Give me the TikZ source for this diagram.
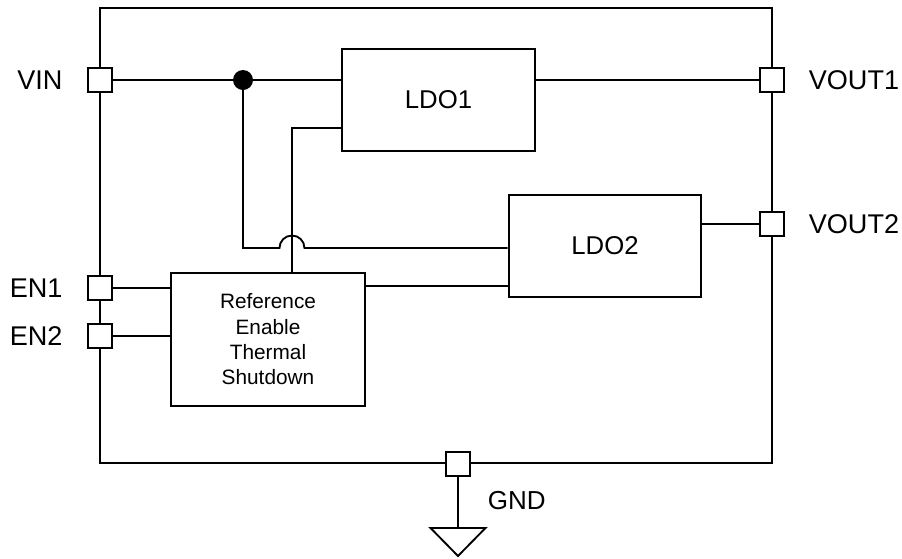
\documentclass[tikz,border=0pt]{standalone}
\usepackage{fontspec}
\setmainfont{Liberation Sans}
\usetikzlibrary{positioning}

\tikzset{
  port/.style={draw, fill=white, minimum size=17.5pt, inner sep=0pt},
  block/.style={draw, inner sep=0pt, font=\fontsize{19.3}{23}\selectfont},
  portlabel/.style={inner sep=0pt, font=\fontsize{20.3}{24}\selectfont},
  junction/.style={circle, fill=black, minimum size=15pt, inner sep=0pt}
}

\begin{document}
\begin{tikzpicture}[x=0.75pt,y=-0.75pt,line width=1.4pt]
\useasboundingbox (0,0) rectangle (902,558);

% Package outline
\draw (100,8) rectangle (772,463);

% Pins
\node[port] (vin) at (100,80) {};
\node[port] (vout1) at (772,80) {};
\node[port] (vout2) at (772,224) {};
\node[port] (en1) at (100,288) {};
\node[port] (en2) at (100,336) {};
\node[port] (gnd) at (458,464) {};

% Pin labels
\node[portlabel, left=18pt of vin] (vinlabel) {VIN};
\node[portlabel, right=17.5pt of vout1] (vout1label) {VOUT1};
\node[portlabel, right=17.5pt of vout2] (vout2label) {VOUT2};
\node[portlabel, left=18pt of en1] (en1label) {EN1};
\node[portlabel, left=18pt of en2] (en2label) {EN2};
\node[portlabel, anchor=west, font=\fontsize{19.5}{23}\selectfont] (gndlabel) at (487,501) {GND};

% Blocks
\node[block, minimum width=145pt, minimum height=76.5pt] (ldo1) at (438.5,100) {LDO1};
\node[block, minimum width=144.5pt, minimum height=76.5pt] (ldo2) at (605,246) {LDO2};
\node[block, minimum width=145.5pt, minimum height=100pt, align=center,
      font=\fontsize{15.6}{19}\selectfont] (ref) at (268,339.5)
      {Reference\\Enable\\Thermal\\Shutdown};

% Wiring
\coordinate (bend) at (243,248);
\coordinate (hop) at (292,248);
\coordinate (ctl) at (292,128);
\draw (vin.east) -- (ldo1.west |- vin);
\draw (ldo1.east |- vout1) -- (vout1.west);
\draw (243,80) -- (bend) -- ([xshift=-9.4pt]hop) arc (180:360:12.5) -- (hop -| ldo2.west);
\draw (ref.north -| ctl) -- (ctl) -- (ctl -| ldo1.west);
\draw (ref.east |- 0,286) -- (ldo2.west |- 0,286);
\draw (en1.east) -- (en1 -| ref.west);
\draw (en2.east) -- (en2 -| ref.west);
\draw (ldo2.east |- vout2) -- (vout2.west);
\node[junction] (tap) at (243,80) {};

% Ground symbol
\coordinate (gndtip) at (458,528);
\draw (gnd.south) -- (gndtip);
\draw ([xshift=-20.6pt]gndtip) -- ([xshift=20.6pt]gndtip) -- ([yshift=-21pt]gndtip) -- cycle;

\end{tikzpicture}
\end{document}
